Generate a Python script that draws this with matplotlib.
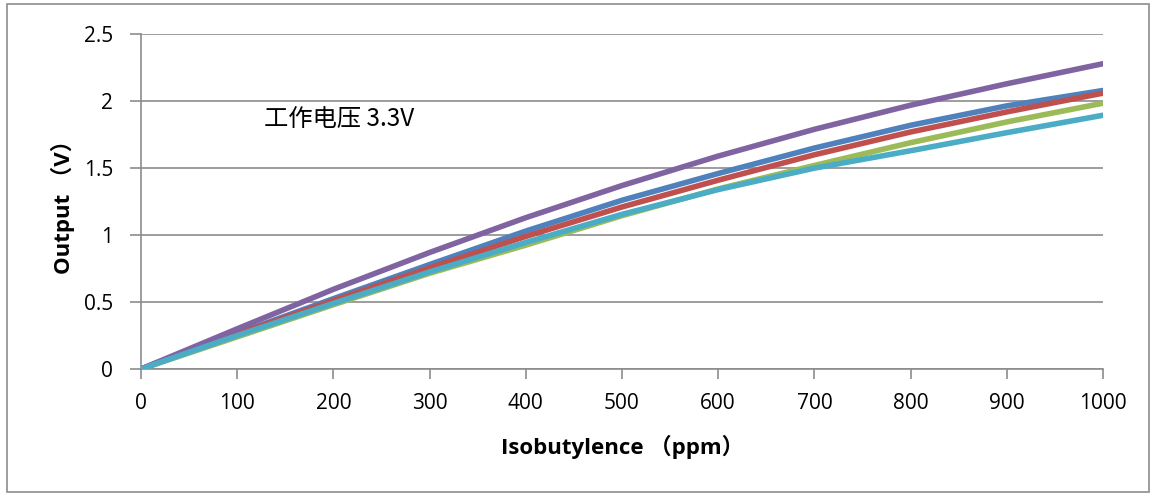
import matplotlib.pyplot as plt
from matplotlib.patches import Rectangle

# Isobutylene concentration (ppm) vs sensor output (V), 3.3 V supply
ppm = [0, 100, 200, 300, 400, 500, 600, 700, 800, 900, 1000]
blue = [0, 0.265, 0.525, 0.78, 1.03, 1.26, 1.46, 1.65, 1.82, 1.965, 2.08]
red = [0, 0.26, 0.51, 0.755, 0.99, 1.21, 1.41, 1.60, 1.77, 1.92, 2.06]
green = [0, 0.24, 0.48, 0.715, 0.925, 1.145, 1.345, 1.52, 1.69, 1.845, 1.985]
purple = [0, 0.30, 0.595, 0.87, 1.13, 1.37, 1.59, 1.79, 1.97, 2.13, 2.28]
cyan = [0, 0.25, 0.49, 0.725, 0.945, 1.155, 1.34, 1.50, 1.63, 1.765, 1.895]

series = [(blue, '#4F81BD'), (red, '#C0504D'), (green, '#9BBB59'),
          (purple, '#8064A2'), (cyan, '#4BACC6')]

xticks = [0, 100, 200, 300, 400, 500, 600, 700, 800, 900, 1000]
yticks = [0, 0.5, 1, 1.5, 2, 2.5]
ytick_labels = ['0', '0.5', '1', '1.5', '2', '2.5']

fonts = ['Open Sans', 'Noto Sans CJK SC', 'DejaVu Sans']
plt.rcParams['font.family'] = fonts

fig = plt.figure(figsize=(11.55, 4.96), dpi=100)
fig.patches.append(Rectangle((0.006, 0.008), 0.989, 0.983, transform=fig.transFigure,
                             fill=False, edgecolor='#8c8c8c', linewidth=1.2))
ax = fig.add_axes([0.122, 0.256, 0.833, 0.675])

for vals, col in series:
    ax.plot(ppm, vals, color=col, linewidth=4, solid_capstyle='round', zorder=3)

ax.set_xlim(0, 1000)
ax.set_ylim(0, 2.5)
ax.set_xticks(xticks)
ax.set_yticks(yticks)
ax.set_yticklabels(ytick_labels)
ax.yaxis.grid(True, color='#8c8c8c', linewidth=1.2)
ax.set_axisbelow(True)
for s in ['top', 'right']:
    ax.spines[s].set_visible(False)
for s in ['left', 'bottom']:
    ax.spines[s].set_color('#8c8c8c')
    ax.spines[s].set_linewidth(1.2)
ax.tick_params(colors='#8c8c8c', labelcolor='black', labelsize=15, width=1.2)
ax.tick_params(axis='x', direction='out', length=7, pad=10)
ax.tick_params(axis='y', direction='out', length=8, pad=12)

ax.set_xlabel('Isobutylence （ppm）', fontsize=16, fontweight='bold', labelpad=15)
ax.set_ylabel('Output （V）', fontsize=16, fontweight='bold', labelpad=6)

ax.text(128, 1.86, '工作电压 3.3V', fontsize=17.5, family=['Noto Sans CJK SC', 'DejaVu Sans'],
        va='center', ha='left')

fig.savefig('out.png', dpi=100)
